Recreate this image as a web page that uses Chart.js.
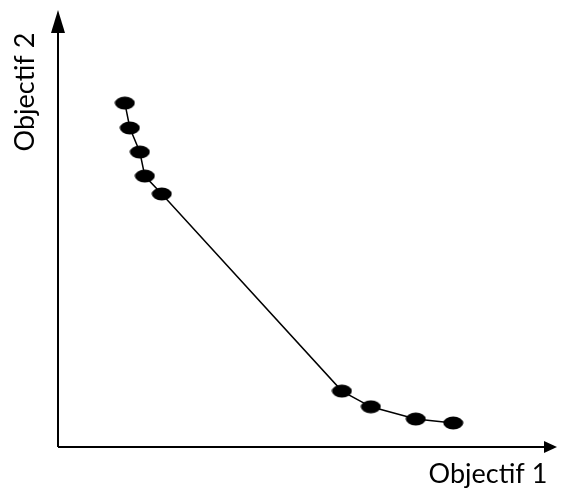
<!DOCTYPE html>
<html lang="fr">
<head>
    <meta charset="UTF-8">
    <title>Front de Pareto</title>
    <script src="https://cdn.jsdelivr.net/npm/chart.js"></script>
    <style>
        html, body {
            margin: 0;
            padding: 0;
            background: #fff;
        }
        .chart-container {
            width: 563px;
            height: 493px;
        }
    </style>
</head>
<body>
    <div class="chart-container">
        <canvas id="paretoChart"></canvas>
    </div>

    <script>
        // values (axes run 0..100)
        const objectif1 = [13.4, 14.4, 16.4, 17.4, 20.8, 56.9, 62.7, 71.7, 79.2];
        const objectif2 = [78.7, 73.0, 67.5, 62.0, 57.9, 12.8, 9.2, 6.4, 5.5];
        const xLabel = "Objectif 1";
        const yLabel = "Objectif 2";

        // black ellipse used as point marker
        function ellipseMarker(w, h) {
            const c = document.createElement("canvas");
            c.width = w;
            c.height = h;
            const g = c.getContext("2d");
            g.fillStyle = "#000";
            g.beginPath();
            g.ellipse(w / 2, h / 2, w / 2 - 0.5, h / 2 - 0.5, 0, 0, Math.PI * 2);
            g.fill();
            return c;
        }

        const arrowAxes = {
            id: "arrowAxes",
            afterDraw(chart) {
                const { ctx, chartArea } = chart;
                const { left, right, top, bottom } = chartArea;
                ctx.save();
                ctx.strokeStyle = "#000";
                ctx.fillStyle = "#000";
                ctx.lineWidth = 2;

                ctx.beginPath();
                ctx.moveTo(left, bottom);
                ctx.lineTo(left, top + 20);
                ctx.moveTo(left, bottom);
                ctx.lineTo(right - 12, bottom);
                ctx.stroke();

                // y arrow head
                ctx.beginPath();
                ctx.moveTo(left, top);
                ctx.lineTo(left - 7, top + 23);
                ctx.lineTo(left + 7, top + 23);
                ctx.closePath();
                ctx.fill();

                // x arrow head
                ctx.beginPath();
                ctx.moveTo(right, bottom);
                ctx.lineTo(right - 13, bottom - 6);
                ctx.lineTo(right - 13, bottom + 6);
                ctx.closePath();
                ctx.fill();

                ctx.font = "27px Lato, 'Open Sans', sans-serif";
                ctx.textBaseline = "middle";
                ctx.textAlign = "center";
                ctx.fillText(xLabel, 488, 474);

                ctx.translate(25, 92);
                ctx.rotate(-Math.PI / 2);
                ctx.fillText(yLabel, 0, 0);
                ctx.restore();
            }
        };

        const ctx = document.getElementById("paretoChart").getContext("2d");
        new Chart(ctx, {
            type: "scatter",
            data: {
                datasets: [{
                    data: objectif1.map((x, i) => ({ x: x, y: objectif2[i] })),
                    showLine: true,
                    borderColor: "#000",
                    borderWidth: 1.5,
                    pointStyle: ellipseMarker(21, 14),
                    pointRadius: 10,
                    pointHoverRadius: 10,
                }],
            },
            options: {
                responsive: true,
                maintainAspectRatio: false,
                animation: false,
                layout: {
                    autoPadding: false,
                    padding: { left: 58, right: 6, top: 10, bottom: 46 },
                },
                plugins: {
                    legend: { display: false },
                    tooltip: { enabled: false },
                },
                scales: {
                    x: { display: false, min: 0, max: 100 },
                    y: { display: false, min: 0, max: 100 },
                },
            },
            plugins: [arrowAxes],
        });
    </script>
</body>
</html>
